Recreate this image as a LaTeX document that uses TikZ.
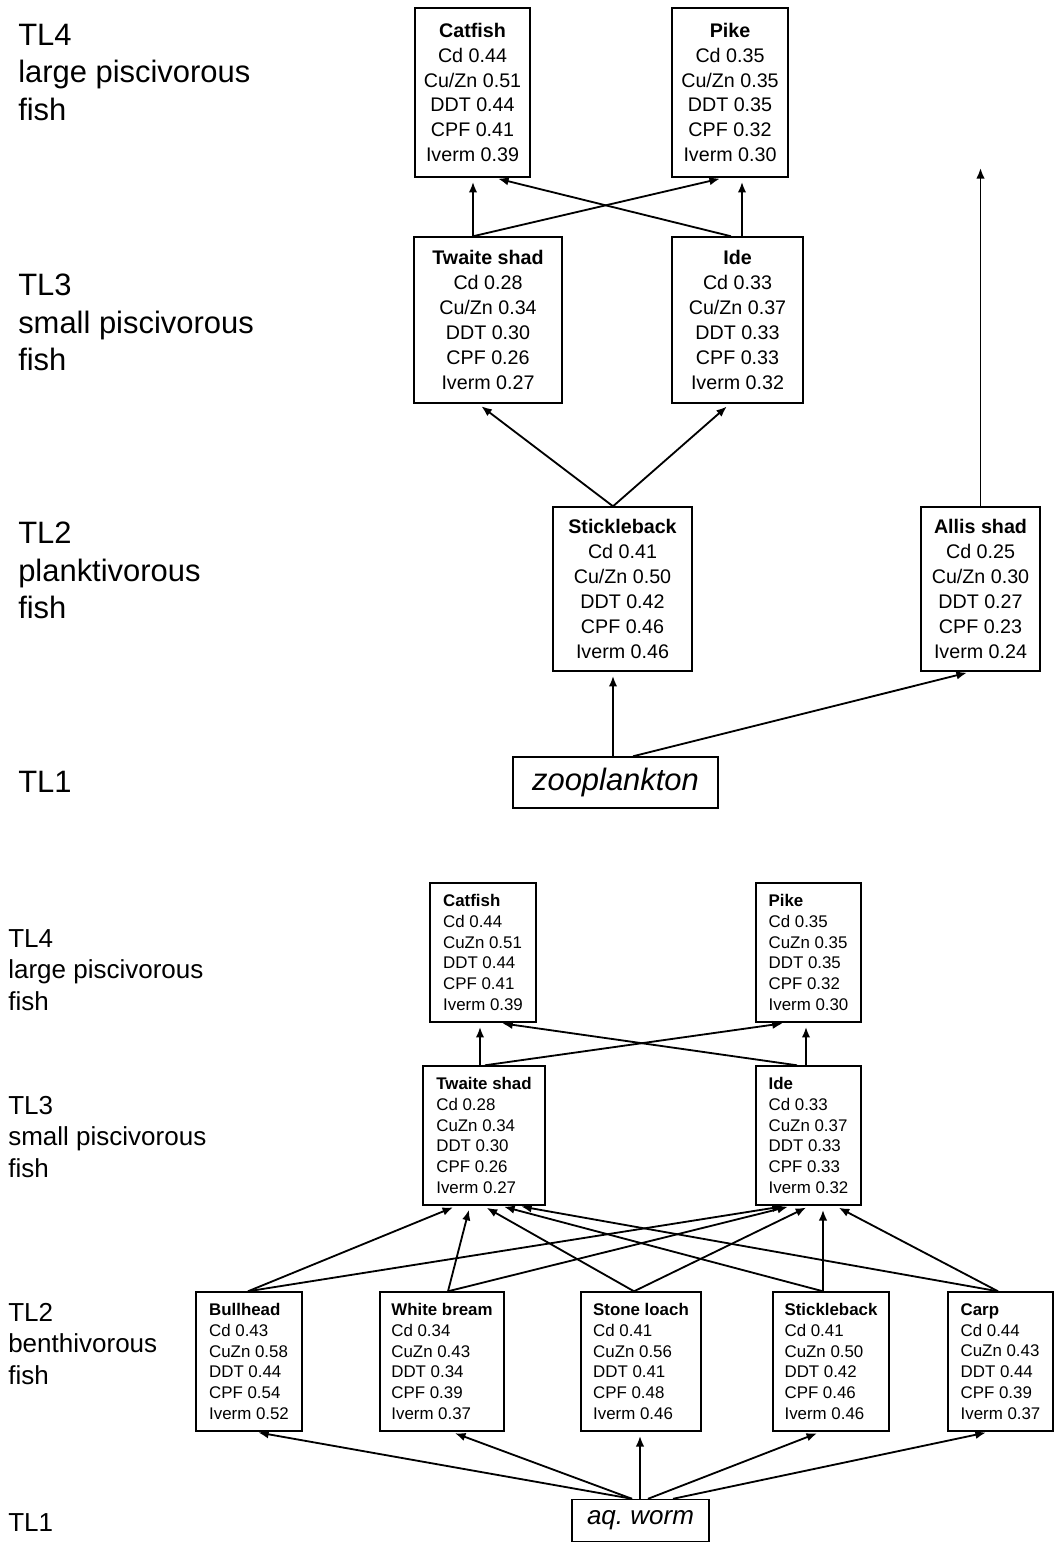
\documentclass[tikz,border=0pt]{standalone}
\usepackage{fontspec}
\setmainfont{Liberation Sans}
\usetikzlibrary{calc,arrows.meta}

\begin{document}
\begin{tikzpicture}[x=0.025cm,y=-0.025cm,>={Latex[length=7.5pt,width=6pt]}]
                \useasboundingbox (0,0) rectangle (1057,1544);
                % upper web (zooplankton)
                \begin{scope}[every node/.style={anchor=west,align=left,inner sep=0pt,font=\fontsize{22}{26.6}\selectfont}]
                    \node (TL4) at (18,72.5) {TL4\\large piscivorous\\fish};
                    \node (TL3) at (18,322.5) {TL3\\small piscivorous\\fish};
                    \node (TL2) at (18,570.5) {TL2\\planktivorous\\fish};
                    \node (TL1) at (18,782) {TL1};
                \end{scope}
                \begin{scope}[every node/.style={draw=black,line width=1pt,align=center,inner sep=0pt,font=\fontsize{14}{17.7}\selectfont}]
                    \node (C) [minimum width=2.875cm, minimum height=4.225cm] at (472.5,92.5) {\textbf{Catfish}\\Cd 0.44\\Cu/Zn 0.51\\DDT 0.44\\CPF 0.41\\Iverm 0.39};
                    \node (P) [minimum width=2.9cm, minimum height=4.225cm] at (730,92.5) {\textbf{Pike}\\Cd 0.35\\Cu/Zn 0.35\\DDT 0.35\\CPF 0.32\\Iverm 0.30};
                    \node (T) [minimum width=3.7cm, minimum height=4.15cm] at (488,320) {\textbf{Twaite shad}\\Cd 0.28\\Cu/Zn 0.34\\DDT 0.30\\CPF 0.26\\Iverm 0.27};
                    \node (I) [minimum width=3.275cm, minimum height=4.15cm] at (737.5,320) {\textbf{Ide}\\Cd 0.33\\Cu/Zn 0.37\\DDT 0.33\\CPF 0.33\\Iverm 0.32};
                    \node (S) [minimum width=3.475cm, minimum height=4.1cm] at (622.5,589) {\textbf{Stickleback}\\Cd 0.41\\Cu/Zn 0.50\\DDT 0.42\\CPF 0.46\\Iverm 0.46};
                    \node (A) [minimum width=2.975cm, minimum height=4.1cm] at (980.5,589) {\textbf{Allis shad}\\Cd 0.25\\Cu/Zn 0.30\\DDT 0.27\\CPF 0.23\\Iverm 0.24};
                    \node (Z) [minimum width=5.125cm, minimum height=1.275cm, font=\fontsize{22}{26}\selectfont\itshape] at (615.5,782.5) {zooplankton};
                \end{scope}
                \coordinate (Atop) at (980.5,168);
                \begin{scope}[every edge/.style={draw=black,line width=1.3pt,shorten >=3pt}]
                    \draw ($(T.north)+(-15,0)$) edge [->] ($(C.south)+(0.5,0)$);
                    \draw ($(T.north)+(-15,0)$) edge [->] ($(P.south)+(-6,0)$);
                    \draw ($(I.north)+(-6.5,0)$) edge [->] ($(C.south)+(21.5,0)$);
                    \draw ($(I.north)+(4.5,0)$) edge [->] ($(P.south)+(12,0)$);
                    \draw ($(S.north)+(-9.5,0)$) edge [->] ($(T.south)+(-10,0)$);
                    \draw ($(S.north)+(-9.5,0)$) edge [->] ($(I.south)+(-7.5,0)$);
                    \draw ($(Z.north)+(-2.5,0)$) edge [->] ($(S.south)+(-9.5,0)$);
                    \draw ($(Z.north)+(17.5,0)$) edge [->] ($(A.south)+(-9.5,0)$);
                    \draw (A.north) edge [->, shorten >=0pt] (Atop);
                \end{scope}
                % lower web (aq. worm)
                \begin{scope}[every node/.style={anchor=west,align=left,inner sep=0pt,font=\fontsize{18.5}{22.3}\selectfont}]
                    \node (TL4b) at (8,970) {TL4\\large piscivorous\\fish};
                    \node (TL3b) at (8,1137) {TL3\\small piscivorous\\fish};
                    \node (TL2b) at (8,1344) {TL2\\benthivorous\\fish};
                    \node (TL1b) at (8,1523) {TL1};
                \end{scope}
                \begin{scope}[every node/.style={draw=black,line width=1pt,align=left,inner sep=0pt,minimum height=3.475cm,font=\fontsize{12}{14.7}\selectfont}]
                    \node (C1) [minimum width=2.65cm] at (483,952.5) {\textbf{Catfish}\\Cd 0.44\\CuZn 0.51\\DDT 0.44\\CPF 0.41\\Iverm 0.39};
                    \node (P1) [minimum width=2.625cm] at (808.5,952.5) {\textbf{Pike}\\Cd 0.35\\CuZn 0.35\\DDT 0.35\\CPF 0.32\\Iverm 0.30};
                    \node (T1) [minimum width=3.05cm] at (484,1135.5) {\textbf{Twaite shad}\\Cd 0.28\\CuZn 0.34\\DDT 0.30\\CPF 0.26\\Iverm 0.27};
                    \node (I1) [minimum width=2.625cm] at (808.5,1135.5) {\textbf{Ide}\\Cd 0.33\\CuZn 0.37\\DDT 0.33\\CPF 0.33\\Iverm 0.32};
                    \node (B1) [minimum width=2.65cm] at (249,1361.5) {\textbf{Bullhead}\\Cd 0.43\\CuZn 0.58\\DDT 0.44\\CPF 0.54\\Iverm 0.52};
                    \node (W1) [minimum width=3.1cm] at (442,1361.5) {\textbf{White bream}\\Cd 0.34\\CuZn 0.43\\DDT 0.34\\CPF 0.39\\Iverm 0.37};
                    \node (L1) [minimum width=3.0cm] at (641,1361.5) {\textbf{Stone loach}\\Cd 0.41\\CuZn 0.56\\DDT 0.41\\CPF 0.48\\Iverm 0.46};
                    \node (S1) [minimum width=2.9cm] at (831,1361.5) {\textbf{Stickleback}\\Cd 0.41\\CuZn 0.50\\DDT 0.42\\CPF 0.46\\Iverm 0.46};
                    \node (K1) [minimum width=2.625cm] at (1000.5,1361.5) {\textbf{Carp}\\Cd 0.44\\CuZn 0.43\\DDT 0.44\\CPF 0.39\\Iverm 0.37};
                    \node (Q1) [minimum width=3.425cm, minimum height=1.05cm, font=\fontsize{18.5}{22}\selectfont\itshape] at (640.5,1520.5) {aq.~worm};
                \end{scope}
                \begin{scope}[every edge/.style={draw=black,line width=1.3pt,shorten >=3pt}]
                    \draw ($(T1.north)+(-4,0)$) edge [->] ($(C1.south)+(-3,0)$);
                    \draw ($(T1.north)+(1,0)$) edge [->] ($(P1.south)+(-21.5,0)$);
                    \draw ($(I1.north)+(-11.5,0)$) edge [->] ($(C1.south)+(15,0)$);
                    \draw ($(I1.north)+(-2.5,0)$) edge [->] ($(P1.south)+(-2.5,0)$);
                    \draw ($(B1.north)+(-1,0)$) edge [->] ($(T1.south)+(-27,0)$);
                    \draw ($(B1.north)+(-1,0)$) edge [->] ($(I1.south)+(-21.5,0)$);
                    \draw ($(W1.north)+(6,0)$) edge [->] ($(T1.south)+(-14,0)$);
                    \draw ($(W1.north)+(6,0)$) edge [->] ($(I1.south)+(-16.5,0)$);
                    \draw ($(L1.north)+(-7,0)$) edge [->] ($(T1.south)+(-1,0)$);
                    \draw ($(L1.north)+(-7,0)$) edge [->] ($(I1.south)+(1.5,0)$);
                    \draw ($(S1.north)+(-8,0)$) edge [->] ($(T1.south)+(16,0)$);
                    \draw ($(S1.north)+(-8,0)$) edge [->] ($(I1.south)+(14.5,0)$);
                    \draw ($(K1.north)+(-2.5,0)$) edge [->] ($(T1.south)+(33,0)$);
                    \draw ($(K1.north)+(-2.5,0)$) edge [->] ($(I1.south)+(26.5,0)$);
                    \draw ($(Q1.north)+(-8.5,0)$) edge [->] ($(B1.south)+(5,0)$);
                    \draw ($(Q1.north)+(-8.5,0)$) edge [->] ($(W1.south)+(9,0)$);
                    \draw ($(Q1.north)+(-0.5,0)$) edge [->] ($(L1.south)+(-1,0)$);
                    \draw ($(Q1.north)+(7.5,0)$) edge [->] ($(S1.south)+(-10,0)$);
                    \draw ($(Q1.north)+(32.5,0)$) edge [->] ($(K1.south)+(-10.5,0)$);
                \end{scope}
            \end{tikzpicture}
\end{document}
